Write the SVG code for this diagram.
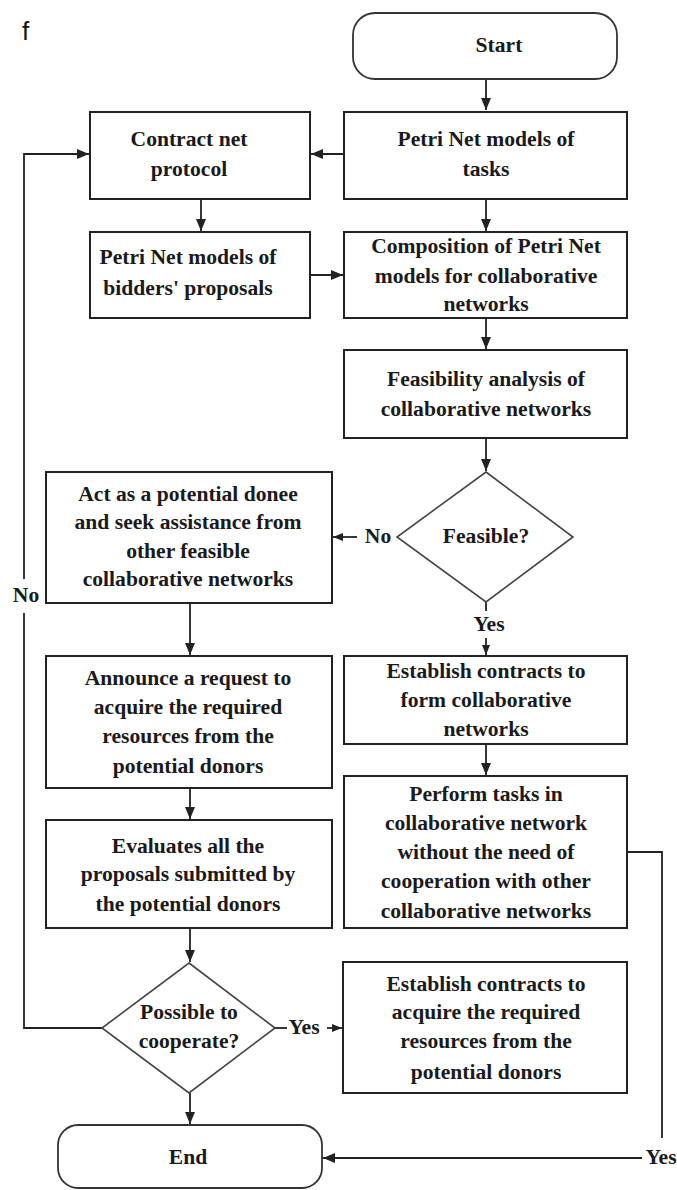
<svg xmlns="http://www.w3.org/2000/svg" width="677" height="1190" viewBox="0 0 677 1190">
  <style>
    .box { fill: #ffffff; stroke: #222222; stroke-width: 2; }
    .term { fill: #ffffff; stroke: #333333; stroke-width: 1.8; }
    .dia { fill: #ffffff; stroke: #444444; stroke-width: 1.6; }
    .lbl { font-family: 'Liberation Serif', 'DejaVu Serif', serif; font-weight: 700; font-size: 21.6px; fill: #1a1a1a; text-anchor: middle; }
    .edge { fill: none; stroke: #222222; stroke-width: 1.8; }
    .tag { font-family: 'Liberation Sans', Arial, sans-serif; font-size: 26px; fill: #111111; }
  </style>
  <defs>
    <marker id="arr" viewBox="0 0 12 10" refX="12" refY="5" markerWidth="12" markerHeight="10" markerUnits="userSpaceOnUse" orient="auto">
      <path d="M0,0 L12,5 L0,10 Z" fill="#222222"/>
    </marker>
    <marker id="arrs" viewBox="0 0 10 8" refX="10" refY="4" markerWidth="10" markerHeight="8" markerUnits="userSpaceOnUse" orient="auto">
      <path d="M0,0 L10,4 L0,8 Z" fill="#222222"/>
    </marker>
  </defs>

  <text class="tag" x="22" y="40">f</text>

  <!-- connectors -->
  <g id="connectors">
    <path class="edge" d="M486,79 V110" marker-end="url(#arr)"/>
    <path class="edge" d="M344,154 H311" marker-end="url(#arr)"/>
    <path class="edge" d="M201,199 V231" marker-end="url(#arr)"/>
    <path class="edge" d="M486,199 V231" marker-end="url(#arr)"/>
    <path class="edge" d="M310,275 H343" marker-end="url(#arr)"/>
    <path class="edge" d="M486,318 V349" marker-end="url(#arr)"/>
    <path class="edge" d="M486,438 V471" marker-end="url(#arr)"/>
    <!-- Feasible? -> No -->
    <path class="edge" d="M357,537 H333" marker-end="url(#arrs)"/>
    <!-- Feasible? -> Yes -->
    <path class="edge" d="M486,602 V611"/>
    <path class="edge" d="M486,638 V655" marker-end="url(#arrs)"/>
    <path class="edge" d="M486,744 V775" marker-end="url(#arr)"/>
    <path class="edge" d="M190,603 V655" marker-end="url(#arr)"/>
    <path class="edge" d="M190,788 V819" marker-end="url(#arr)"/>
    <path class="edge" d="M190,928 V962" marker-end="url(#arr)"/>
    <!-- Possible to cooperate? -> No loop back to the contract net -->
    <path class="edge" d="M102,1028 H24 V613"/>
    <path class="edge" d="M24,579 V154 H89" marker-end="url(#arr)"/>
    <!-- Possible to cooperate? -> Yes -->
    <path class="edge" d="M275,1028 H287"/>
    <path class="edge" d="M327,1028 H342" marker-end="url(#arrs)"/>
    <path class="edge" d="M190,1093 V1124" marker-end="url(#arr)"/>
    <!-- Perform tasks -> End -->
    <path class="edge" d="M627,852 H662 V1138"/>
    <path class="edge" d="M642,1158 H323" marker-end="url(#arr)"/>
    <text class="lbl" x="378" y="543">No</text>
    <text class="lbl" x="26" y="602">No</text>
    <text class="lbl" x="489" y="631">Yes</text>
    <text class="lbl" x="304" y="1034">Yes</text>
    <text class="lbl" x="661" y="1164">Yes</text>
  </g>

  <g id="start">
    <rect class="term" x="353" y="13" width="264" height="66" rx="22"/>
    <text class="lbl" x="499" y="52">Start</text>
  </g>

  <g id="petri-tasks">
    <rect class="box" x="344" y="112" width="283" height="87"/>
    <text class="lbl" x="486" y="146">Petri Net models of</text>
    <text class="lbl" x="486" y="176">tasks</text>
  </g>

  <g id="contract-net">
    <rect class="box" x="90" y="112" width="220" height="87"/>
    <text class="lbl" x="189" y="146">Contract net</text>
    <text class="lbl" x="189" y="176">protocol</text>
  </g>

  <g id="petri-bidders">
    <rect class="box" x="90" y="232" width="220" height="86"/>
    <text class="lbl" x="188" y="264">Petri Net models of</text>
    <text class="lbl" x="188" y="295">bidders' proposals</text>
  </g>

  <g id="composition">
    <rect class="box" x="344" y="232" width="283" height="86"/>
    <text class="lbl" x="486" y="253">Composition of Petri Net</text>
    <text class="lbl" x="486" y="283">models for collaborative</text>
    <text class="lbl" x="486" y="311">networks</text>
  </g>

  <g id="feasibility">
    <rect class="box" x="344" y="350" width="283" height="88"/>
    <text class="lbl" x="486" y="386">Feasibility analysis of</text>
    <text class="lbl" x="486" y="416">collaborative networks</text>
  </g>

  <g id="feasible">
    <polygon class="dia" points="486,472 573,537 486,602 397,537"/>
    <text class="lbl" x="486" y="543">Feasible?</text>
  </g>

  <g id="act-donee">
    <rect class="box" x="46" y="472" width="286" height="131"/>
    <text class="lbl" x="188" y="501">Act as  a potential donee</text>
    <text class="lbl" x="188" y="529">and seek assistance from</text>
    <text class="lbl" x="188" y="558">other feasible</text>
    <text class="lbl" x="188" y="586">collaborative networks</text>
  </g>

  <g id="establish-form">
    <rect class="box" x="344" y="656" width="283" height="88"/>
    <text class="lbl" x="486" y="678">Establish contracts to</text>
    <text class="lbl" x="486" y="707">form collaborative</text>
    <text class="lbl" x="486" y="736">networks</text>
  </g>

  <g id="announce">
    <rect class="box" x="46" y="656" width="286" height="132"/>
    <text class="lbl" x="188" y="685">Announce a request to</text>
    <text class="lbl" x="188" y="714">acquire the required</text>
    <text class="lbl" x="188" y="743">resources from the</text>
    <text class="lbl" x="188" y="773">potential donors</text>
  </g>

  <g id="perform">
    <rect class="box" x="344" y="776" width="283" height="152"/>
    <text class="lbl" x="486" y="801">Perform tasks in</text>
    <text class="lbl" x="486" y="830">collaborative network</text>
    <text class="lbl" x="486" y="859">without the need of</text>
    <text class="lbl" x="486" y="888">cooperation with other</text>
    <text class="lbl" x="486" y="918">collaborative networks</text>
  </g>

  <g id="evaluate">
    <rect class="box" x="46" y="820" width="286" height="108"/>
    <text class="lbl" x="188" y="853">Evaluates all the</text>
    <text class="lbl" x="188" y="881">proposals submitted by</text>
    <text class="lbl" x="188" y="911">the potential donors</text>
  </g>

  <g id="possible">
    <polygon class="dia" points="189,963 275,1028 189,1093 102,1028"/>
    <text class="lbl" x="189" y="1019">Possible to</text>
    <text class="lbl" x="189" y="1048">cooperate?</text>
  </g>

  <g id="establish-acquire">
    <rect class="box" x="343" y="962" width="284" height="131"/>
    <text class="lbl" x="486" y="991">Establish contracts to</text>
    <text class="lbl" x="486" y="1019">acquire the required</text>
    <text class="lbl" x="486" y="1048">resources from the</text>
    <text class="lbl" x="486" y="1079">potential donors</text>
  </g>

  <g id="end">
    <rect class="term" x="58" y="1125" width="264" height="63" rx="20"/>
    <text class="lbl" x="188" y="1164">End</text>
  </g>
</svg>
